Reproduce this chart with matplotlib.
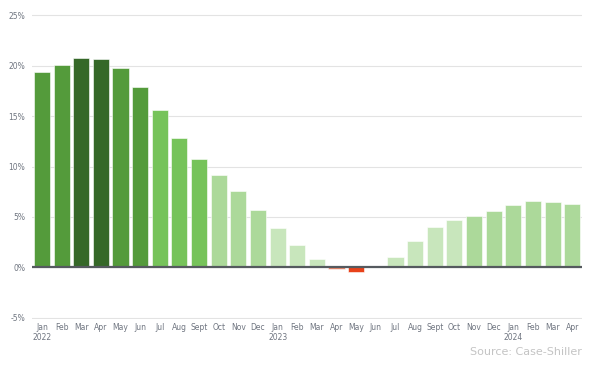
import matplotlib.pyplot as plt

months = ['Jan\n2022', 'Feb', 'Mar', 'Apr', 'May', 'Jun', 'Jul', 'Aug', 'Sept', 'Oct', 'Nov', 'Dec',
          'Jan\n2023', 'Feb', 'Mar', 'Apr', 'May', 'Jun', 'Jul', 'Aug', 'Sept', 'Oct', 'Nov', 'Dec',
          'Jan\n2024', 'Feb', 'Mar', 'Apr']
values = [19.4, 20.1, 20.75, 20.65, 19.8, 17.9, 15.6, 12.85, 10.7, 9.2, 7.6, 5.65,
          3.85, 2.2, 0.8, -0.15, -0.45, 0.05, 1.0, 2.6, 4.0, 4.7, 5.1, 5.6,
          6.2, 6.55, 6.5, 6.3]
colors = ['#549b3b', '#549b3b', '#356828', '#356828', '#549b3b', '#549b3b', '#76c35a', '#76c35a', '#76c35a',
          '#acd99a', '#acd99a', '#acd99a', '#c8e6bc', '#c8e6bc', '#c8e6bc', '#e8866a', '#e8421a', '#c8e6bc',
          '#c8e6bc', '#c8e6bc', '#c8e6bc', '#c8e6bc', '#acd99a', '#acd99a', '#acd99a', '#acd99a', '#acd99a',
          '#acd99a']
yticks = [-5, 0, 5, 10, 15, 20, 25]

fig = plt.figure(figsize=(6.09, 3.68), dpi=100)
ax = fig.add_axes([0.0525, 0.134, 0.9035, 0.827])

x = list(range(len(values)))
ax.bar(x, values, width=0.82, color=colors, edgecolor='white', linewidth=0.4, zorder=2)
ax.axhline(0, color='#555a5f', linewidth=1.6, zorder=3)

ax.set_xlim(-0.51, 27.51)
ax.set_ylim(-5.1, 25.1)
ax.set_yticks(yticks)
ax.set_yticklabels([f'{t}%' for t in yticks])
ax.set_xticks(x)
ax.set_xticklabels(months)
ax.grid(axis='y', color='#e3e3e3', linewidth=0.8, zorder=0)
for s in ax.spines.values():
    s.set_visible(False)
ax.tick_params(axis='both', length=0, labelsize=5.5, labelcolor='#6f7580')
ax.tick_params(axis='x', pad=3)
ax.tick_params(axis='y', pad=5)

fig.text(0.956, 0.03, 'Source: Case-Shiller', ha='right', va='bottom', fontsize=8, color='#c4c4c4')

fig.savefig('out.png', dpi=100)
